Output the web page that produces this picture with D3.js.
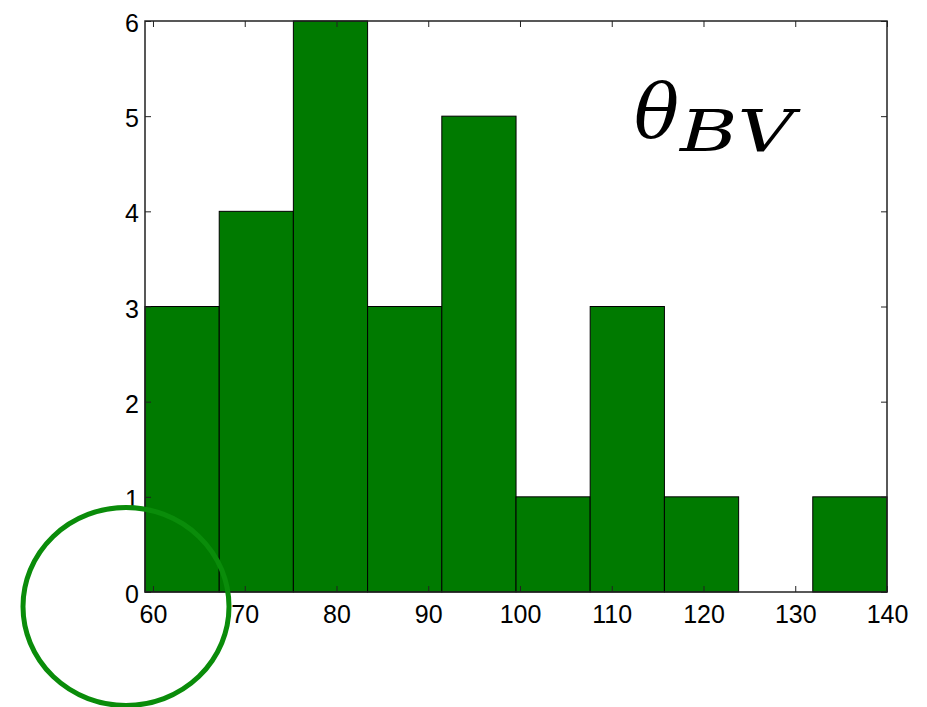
<!DOCTYPE html>
<html>
<head>
<meta charset="utf-8">
<script src="https://cdn.jsdelivr.net/npm/d3@7"></script>
<style>
  html, body { margin: 0; padding: 0; background: #fff; }
  svg { display: block; }
</style>
</head>
<body>
<svg id="chart" width="927" height="707"></svg>
<script>
// Histogram bin edges and counts
const binEdges = [59.13, 67.22, 75.3, 83.39, 91.48, 99.57, 107.65, 115.74, 123.83, 131.91, 140];
const counts = [3, 4, 6, 3, 5, 1, 3, 1, 0, 1];
const xTicks = [60, 70, 80, 90, 100, 110, 120, 130, 140];
const yTicks = [0, 1, 2, 3, 4, 5, 6];

const svg = d3.select("#chart");
const plot = { left: 145, right: 887, top: 21, bottom: 592 };

const x = d3.scaleLinear().domain([binEdges[0], binEdges[binEdges.length - 1]]).range([plot.left, plot.right]);
const y = d3.scaleLinear().domain([0, 6]).range([plot.bottom, plot.top]);

const bins = counts.map((c, i) => ({ x0: binEdges[i], x1: binEdges[i + 1], n: c }));

// bars
svg.append("g").selectAll("rect").data(bins.filter(d => d.n > 0)).join("rect")
  .attr("x", d => x(d.x0))
  .attr("y", d => y(d.n))
  .attr("width", d => x(d.x1) - x(d.x0))
  .attr("height", d => y(0) - y(d.n))
  .attr("fill", "#007a00")
  .attr("stroke", "#000")
  .attr("stroke-width", 1);

const font = "Helvetica, 'Liberation Sans', Arial, sans-serif";

// axes: ticks inside the frame, labels only on bottom and left
const axB = d3.axisBottom(x).tickValues(xTicks).tickFormat(d3.format("d")).tickSizeInner(-6).tickSizeOuter(0).tickPadding(13);
const axT = d3.axisTop(x).tickValues(xTicks).tickSizeInner(-6).tickSizeOuter(0).tickFormat("");
const axL = d3.axisLeft(y).tickValues(yTicks).tickFormat(d3.format("d")).tickSizeInner(-6).tickSizeOuter(0).tickPadding(6);
const axR = d3.axisRight(y).tickValues(yTicks).tickSizeInner(-6).tickSizeOuter(0).tickFormat("");

function style(g) {
  g.attr("font-family", font).attr("font-size", 25);
  g.select(".domain").remove();
  g.selectAll(".tick line").attr("stroke", "#222").attr("stroke-width", 1);
  g.selectAll("text").attr("fill", "#000");
}
svg.append("g").attr("transform", `translate(0,${plot.bottom})`).call(axB).call(style);
svg.append("g").attr("transform", `translate(0,${plot.top})`).call(axT).call(style);
svg.append("g").attr("transform", `translate(${plot.left},0)`).call(axL).call(style)
  .selectAll("text").attr("dy", "0.42em");
svg.append("g").attr("transform", `translate(${plot.right},0)`).call(axR).call(style);

// frame
svg.append("rect")
  .attr("x", plot.left).attr("y", plot.top)
  .attr("width", plot.right - plot.left).attr("height", plot.bottom - plot.top)
  .attr("fill", "none").attr("stroke", "#222").attr("stroke-width", 1.5);

// title symbol: theta with subscript BV
const serif = "'DejaVu Serif', 'Liberation Serif', serif";
svg.append("text")
  .attr("x", 634).attr("y", 137)
  .style("font-family", serif).style("font-style", "italic").style("font-size", "75px")
  .attr("fill", "#000")
  .text("θ");
svg.append("text")
  .attr("x", 680).attr("y", 151)
  .style("font-family", serif).style("font-style", "italic").style("font-size", "58px")
  .attr("textLength", 114).attr("lengthAdjust", "spacingAndGlyphs")
  .attr("fill", "#000")
  .text("BV");

// highlight ring around the origin
svg.append("ellipse")
  .attr("cx", 126).attr("cy", 606.5)
  .attr("rx", 103).attr("ry", 99)
  .attr("fill", "none")
  .attr("stroke", "#0a8c0a")
  .attr("stroke-width", 5);
</script>
</body>
</html>
